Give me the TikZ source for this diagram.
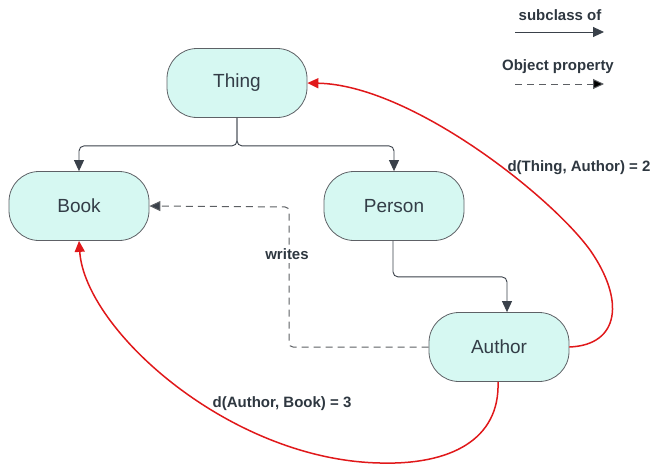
\documentclass[tikz,border=0pt]{standalone}
\usepackage{fontspec}
\setmainfont{Liberation Sans}
\usetikzlibrary{arrows.meta}
\definecolor{nodefill}{HTML}{D6F8F2}
\definecolor{nodeline}{HTML}{5E6166}
\definecolor{txt}{HTML}{333D47}
\definecolor{conn}{HTML}{3A414A}
\definecolor{dashc}{HTML}{5C5F63}
\definecolor{redl}{HTML}{E0181A}
\begin{document}
\begin{tikzpicture}[x=1pt,y=-1pt,
  cls/.style={draw=nodeline, line width=0.8pt, fill=nodefill, rounded corners=30pt,
    minimum width=140pt, minimum height=69pt, inner sep=0pt, text=txt,
    font=\fontsize{19}{22}\selectfont},
  sub/.style={draw=conn, line width=0.9pt, rounded corners=5pt,
    -{Triangle[length=11pt,width=10pt]}},
  prop/.style={draw=dashc, line width=1pt, dash pattern=on 7pt off 5pt,
    -{Triangle[length=11pt,width=10pt,fill=conn]}},
  dist/.style={draw=redl, line width=1.5pt, -{Triangle[length=11pt,width=10pt]}},
  lbl/.style={font=\bfseries\fontsize{15}{18}\selectfont, text=txt!90!black, inner sep=1pt}
]
\useasboundingbox (0,0) rectangle (653,471);

\node[cls] (Thing) at (237,83) {Thing};
\node[cls] (Book) at (79,206) {Book};
\node[cls] (Person) at (394,206) {Person};
\node[cls] (Author) at (499,347) {Author};

% subclass connectors
\draw[sub] (Thing.south) -- ++(0,28) -| (Book.north);
\draw[sub] (Thing.south) -- ++(0,28) -| (Person.north);
\draw[sub] ([xshift=-1pt]Person.south) -- ++(0,36) -| ([xshift=8pt]Author.north);

% object property
\draw[prop, rounded corners=4pt] (Author.west) -| (289,207) -- (Book.east);
\node[lbl, fill=white, inner sep=3pt] (writes) at (287,254) {writes};

% distances
\draw[dist] (Author.east) .. controls (620,345) and (625,300) .. (590,250)
   .. controls (550,195) and (410,85) .. (Thing.east);
\draw[dist] ([xshift=-1pt]Author.south) .. controls (500,440) and (450,465) .. (380,463)
   .. controls (230,460) and (85,330) .. (Book.south);
\node[lbl] (d1) at (579,168) {d(Thing, Author) = 2};
\node[lbl] (d2) at (282,404) {d(Author, Book) = 3};

% legend
\node[lbl] (leg1) at (560,15) {subclass of};
\coordinate (l1a) at (515,32);
\coordinate (l1b) at (604,32);
\draw[sub] (l1a) -- (l1b);
\node[lbl] (leg2) at (558,67) {Object property};
\coordinate (l2a) at (515,84);
\coordinate (l2b) at (604,84);
\draw[prop, -{Triangle[length=11pt,width=10pt,fill=black]}] (l2a) -- (l2b);
\end{tikzpicture}
\end{document}
